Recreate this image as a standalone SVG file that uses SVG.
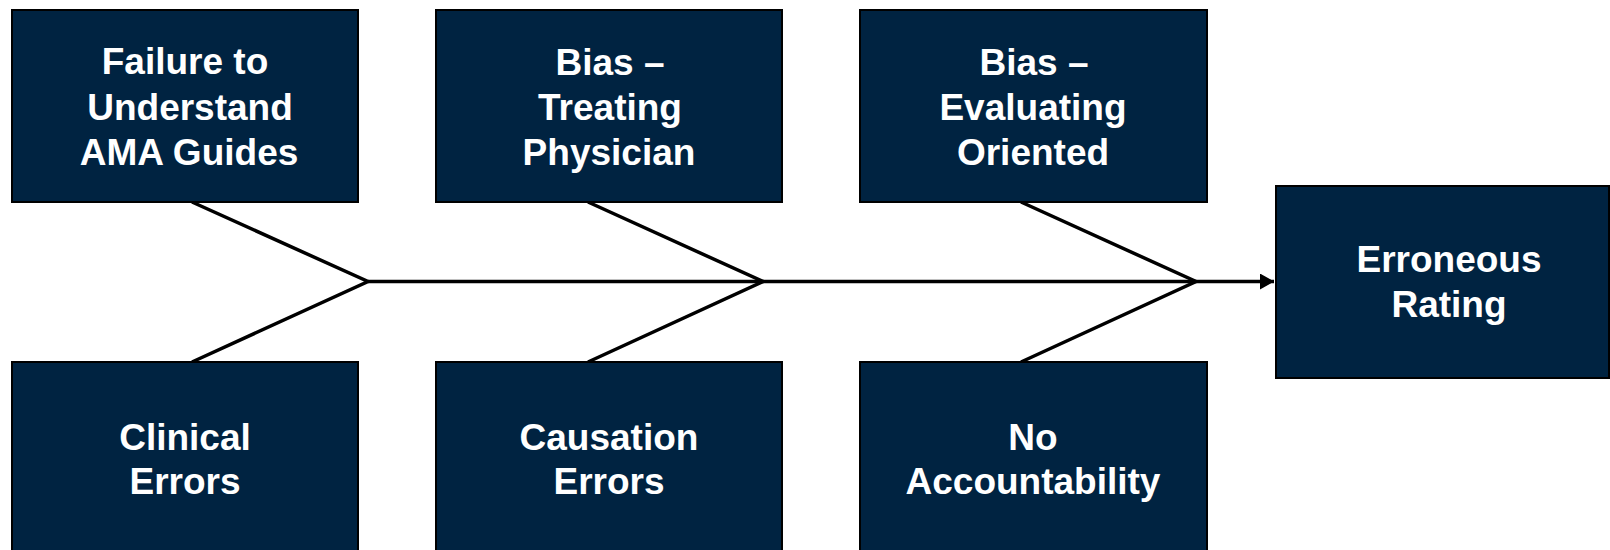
<svg xmlns="http://www.w3.org/2000/svg" width="1610" height="550" viewBox="0 0 1610 550">
<style>
.box{fill:#002341;stroke:#000;stroke-width:2}
.lbl{font-family:"Liberation Sans",Arial,sans-serif;font-weight:bold;font-size:37px;fill:#fff;text-anchor:middle}
.con{stroke:#000;stroke-width:3.5;fill:none}
</style>
<defs>
<marker id="arr" markerUnits="userSpaceOnUse" markerWidth="16" markerHeight="18" refX="14" refY="8" orient="auto">
<path d="M0,0 L14,8 L0,16 Z" fill="#000"/>
</marker>
</defs>
<rect width="1610" height="550" fill="#fff"/>
<g id="connectors">
<path class="con" d="M192,202 L368,281.5 L192,362"/>
<path class="con" d="M588,202 L763,281.5 L588,362"/>
<path class="con" d="M1021,202 L1196,281.5 L1021,362"/>
<path class="con" d="M368,281.5 L1274,281.5" marker-end="url(#arr)"/>
</g>
<g id="n1">
<rect class="box" x="12" y="10" width="346" height="192"/>
<text class="lbl"><tspan x="185" y="74">Failure to</tspan><tspan x="190" y="120">Understand</tspan><tspan x="189" y="165">AMA Guides</tspan></text>
</g>
<g id="n2">
<rect class="box" x="436" y="10" width="346" height="192"/>
<text class="lbl"><tspan x="610" y="75">Bias –</tspan><tspan x="610" y="120">Treating</tspan><tspan x="609" y="165">Physician</tspan></text>
</g>
<g id="n3">
<rect class="box" x="860" y="10" width="347" height="192"/>
<text class="lbl"><tspan x="1034" y="75">Bias –</tspan><tspan x="1033" y="120">Evaluating</tspan><tspan x="1033" y="165">Oriented</tspan></text>
</g>
<g id="n4">
<rect class="box" x="12" y="362" width="346" height="200"/>
<text class="lbl"><tspan x="185" y="450">Clinical</tspan><tspan x="185" y="494">Errors</tspan></text>
</g>
<g id="n5">
<rect class="box" x="436" y="362" width="346" height="200"/>
<text class="lbl"><tspan x="609" y="450">Causation</tspan><tspan x="609" y="494">Errors</tspan></text>
</g>
<g id="n6">
<rect class="box" x="860" y="362" width="347" height="200"/>
<text class="lbl"><tspan x="1033" y="450">No</tspan><tspan x="1033" y="494">Accountability</tspan></text>
</g>
<g id="n7">
<rect class="box" x="1276" y="186" width="333" height="192"/>
<text class="lbl"><tspan x="1449" y="272">Erroneous</tspan><tspan x="1449" y="317">Rating</tspan></text>
</g>
</svg>
